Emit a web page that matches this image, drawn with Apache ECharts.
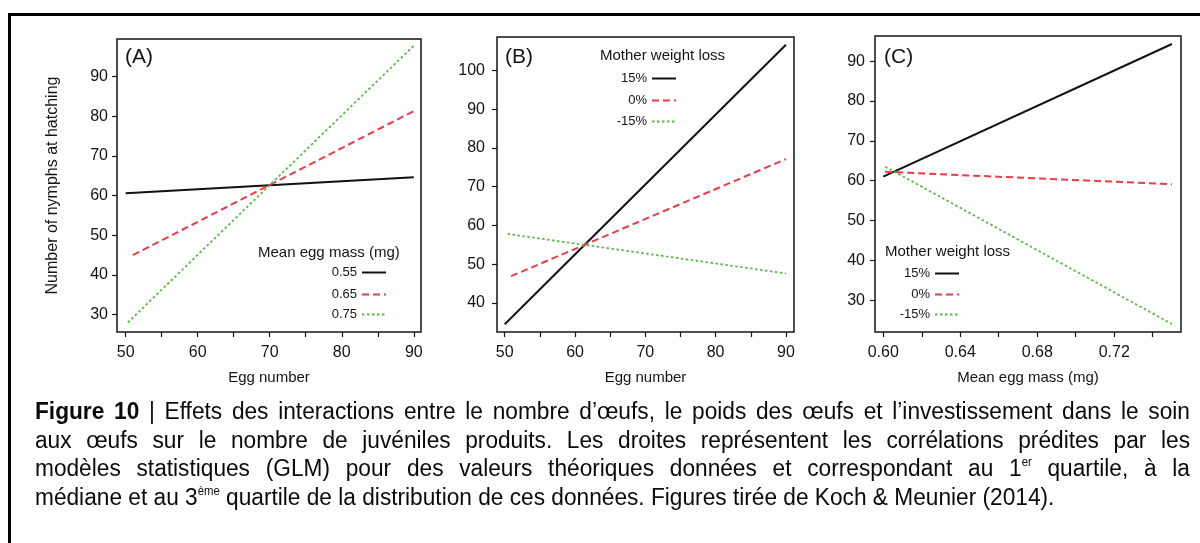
<!DOCTYPE html>
<html>
<head>
<meta charset="utf-8">
<script src="https://cdn.jsdelivr.net/npm/echarts@6/dist/echarts.min.js"></script>
<style>
  html, body { margin:0; padding:0; background:#fff; width:1200px; height:543px; overflow:hidden; }
  #frame { position:absolute; left:8px; top:13px; width:1300px; height:700px; border-left:3px solid #000; border-top:3px solid #000; box-sizing:border-box; }
  #chart { position:absolute; left:0; top:0; width:1200px; height:543px; }
  #caption { position:absolute; left:35px; top:397px; width:1155px; transform-origin:0 0;
    font-family:'Liberation Sans',Arial,sans-serif; font-size:22px; line-height:28.7px; color:#0a0a0a; }
  #caption .ln { white-space:nowrap; text-align:justify; text-align-last:justify; height:28.7px; }
  #caption .last { text-align:left; text-align-last:left; }
  #caption sup { font-size:0.5em; line-height:0; vertical-align:baseline; position:relative; top:-0.85em; }
</style>
</head>
<body>
<div id="frame"></div>
<div id="chart"></div>
<div id="caption">
  <div class="ln"><b>Figure 10</b> | Effets des interactions entre le nombre d’œufs, le poids des œufs et l’investissement dans le soin</div>
  <div class="ln">aux œufs sur le nombre de juvéniles produits. Les droites représentent les corrélations prédites par les</div>
  <div class="ln">modèles statistiques (GLM) pour des valeurs théoriques données et correspondant au 1<sup>er</sup> quartile, à la</div>
  <div class="ln last"><span id="lastspan">médiane et au 3<sup>ème</sup> quartile de la distribution de ces données. Figures tirée de Koch &amp; Meunier (2014).</span></div>
</div>
<script>
// ---------- data ----------
// Panel A: x = egg number, y = number of nymphs at hatching
const aNames = ['0.55', '0.65', '0.75'];
const aBlackX = [50, 90];    const aBlackY = [60.6, 64.6];
const aRedX   = [51, 90];    const aRedY   = [45.0, 81.3];
const aGreenX = [50.3, 90.1]; const aGreenY = [28.0, 98.0];
// Panel B: x = egg number
const bNames = ['15%', '0%', '-15%'];
const bBlackX = [50, 90];    const bBlackY = [34.5, 106.6];
const bRedX   = [50.9, 90];  const bRedY   = [46.9, 77.1];
const bGreenX = [50.4, 90];  const bGreenY = [57.8, 47.6];
// Panel C: x = mean egg mass (mg)
const cBlackX = [0.600, 0.750]; const cBlackY = [61.0, 94.3];
const cRedX   = [0.601, 0.750]; const cRedY   = [62.2, 59.1];
const cGreenX = [0.601, 0.750]; const cGreenY = [63.5, 24.0];
// ticks
const xTicksAB  = [50, 55, 60, 65, 70, 75, 80, 85, 90];
const xLabelsAB = [50, 60, 70, 80, 90];
const yTicksA   = [30, 40, 50, 60, 70, 80, 90];
const yTicksB   = [40, 50, 60, 70, 80, 90, 100];
const yTicksC   = [30, 40, 50, 60, 70, 80, 90];
const xTicksC   = [0.60, 0.62, 0.64, 0.66, 0.68, 0.70, 0.72, 0.74];
const xLabelsC  = [0.60, 0.64, 0.68, 0.72];

// ---------- layout / style ----------
const FONT = "'Liberation Sans', Arial, Helvetica, sans-serif";
const TXT = '#141414';
const BLACK = '#111111', RED = '#ee3a45', GREEN = '#5cb848';
const pair = (xs, ys) => xs.map((x, i) => [x, ys[i]]);

const grids = [
  { left: 117, top: 39, width: 304, height: 293 },
  { left: 497, top: 37, width: 297, height: 295 },
  { left: 875, top: 36, width: 306, height: 296 }
].map(g => Object.assign(g, { show: true, borderColor: '#151515', borderWidth: 1.5, backgroundColor: 'transparent', containLabel: false }));

function xAx(gi, min, max, ticks, labels, name, fmt) {
  return {
    gridIndex: gi, type: 'value', min, max,
    axisLine: { show: false, onZero: false }, splitLine: { show: false },
    axisTick: { show: true, inside: false, length: 5, customValues: ticks, lineStyle: { color: '#151515', width: 1.2 } },
    axisLabel: { customValues: labels, fontSize: 16, color: TXT, margin: 13, fontFamily: FONT, formatter: fmt },
    name, nameLocation: 'middle', nameGap: 38, nameMoveOverlap: false,
    nameTextStyle: { fontSize: 15, color: TXT, fontFamily: FONT }
  };
}
function yAx(gi, min, max, ticks, margin, name) {
  return {
    gridIndex: gi, type: 'value', min, max,
    axisLine: { show: false, onZero: false }, splitLine: { show: false },
    axisTick: { show: true, inside: false, length: 5, customValues: ticks, lineStyle: { color: '#151515', width: 1.2 } },
    axisLabel: { customValues: ticks, fontSize: 16, color: TXT, margin, fontFamily: FONT },
    name: name || '', nameLocation: 'middle', nameGap: 56, nameMoveOverlap: false,
    nameTextStyle: { fontSize: 16, color: TXT, fontFamily: FONT }
  };
}
function ser(name, gi, data, color, type, width) {
  return {
    name, type: 'line', xAxisIndex: gi, yAxisIndex: gi, data,
    symbol: 'none', showSymbol: false, silent: true, animation: false,
    lineStyle: { color, type, width }, itemStyle: { color }
  };
}
function legendItem(name, right, top) {
  return {
    data: [name], orient: 'vertical', align: 'right', right, top, padding: 0,
    itemWidth: 24, itemHeight: 10, selectedMode: false,
    itemStyle: { opacity: 0, borderWidth: 0 },
    textStyle: { fontSize: 13, color: TXT, fontFamily: FONT }
  };
}
function label(text, x, y, size) {
  return { type: 'text', x, y, silent: true,
    style: { text, fontSize: size, fontFamily: FONT, fill: TXT, verticalAlign: 'middle' } };
}

const DASH = [7, 4], DOT = [2.5, 2.5];
const option = {
  animation: false,
  grid: grids,
  xAxis: [
    xAx(0, 48.8, 91.0, xTicksAB, xLabelsAB, 'Egg number'),
    xAx(1, 48.9, 91.15, xTicksAB, xLabelsAB, 'Egg number'),
    xAx(2, 0.5957, 0.7547, xTicksC, xLabelsC, 'Mean egg mass (mg)', v => v.toFixed(2))
  ],
  yAxis: [
    yAx(0, 25.6, 99.5, yTicksA, 9, 'Number of nymphs at hatching'),
    yAx(1, 32.5, 108.6, yTicksB, 12),
    yAx(2, 22.0, 96.3, yTicksC, 10)
  ],
  series: [
    ser(aNames[0], 0, pair(aBlackX, aBlackY), BLACK, 'solid', 2),
    ser(aNames[1], 0, pair(aRedX, aRedY), RED, DASH, 2),
    ser(aNames[2], 0, pair(aGreenX, aGreenY), GREEN, DOT, 1.8),
    ser(bNames[0], 1, pair(bBlackX, bBlackY), BLACK, 'solid', 2),
    ser(bNames[1], 1, pair(bRedX, bRedY), RED, DASH, 2),
    ser(bNames[2], 1, pair(bGreenX, bGreenY), GREEN, DOT, 1.8),
    ser(bNames[0], 2, pair(cBlackX, cBlackY), BLACK, 'solid', 2),
    ser(bNames[1], 2, pair(cRedX, cRedY), RED, DASH, 2),
    ser(bNames[2], 2, pair(cGreenX, cGreenY), GREEN, DOT, 1.8)
  ],
  legend: [
    legendItem(aNames[0], 813, 266), legendItem(aNames[1], 813, 288), legendItem(aNames[2], 813, 308),
    legendItem(bNames[0], 523, 72),  legendItem(bNames[1], 523, 94),  legendItem(bNames[2], 523, 115),
    legendItem(bNames[0], 240, 267), legendItem(bNames[1], 240, 288), legendItem(bNames[2], 240, 308)
  ],
  graphic: [
    label('(A)', 125, 57, 21), label('(B)', 505, 57, 21), label('(C)', 884, 57, 21),
    label('Mean egg mass (mg)', 258, 253, 15),
    label('Mother weight loss', 600, 56, 15),
    label('Mother weight loss', 885, 252, 15)
  ]
};
const chart = echarts.init(document.getElementById('chart'), null, { renderer: 'canvas' });
chart.setOption(option);

// caption: slightly condensed font, sized so the last (non-justified) line spans ~1020px as in the reference
(function () {
  const cap = document.getElementById('caption');
  const s = 0.95;
  const span = document.getElementById('lastspan');
  const W = span.getBoundingClientRect().width;
  const fs = 22 * (1020 / s) / W;
  cap.style.fontSize = fs + 'px';
  cap.style.width = (1155 / s) + 'px';
  cap.style.transform = 'scaleX(' + s + ')';
})();
</script>
</body>
</html>
